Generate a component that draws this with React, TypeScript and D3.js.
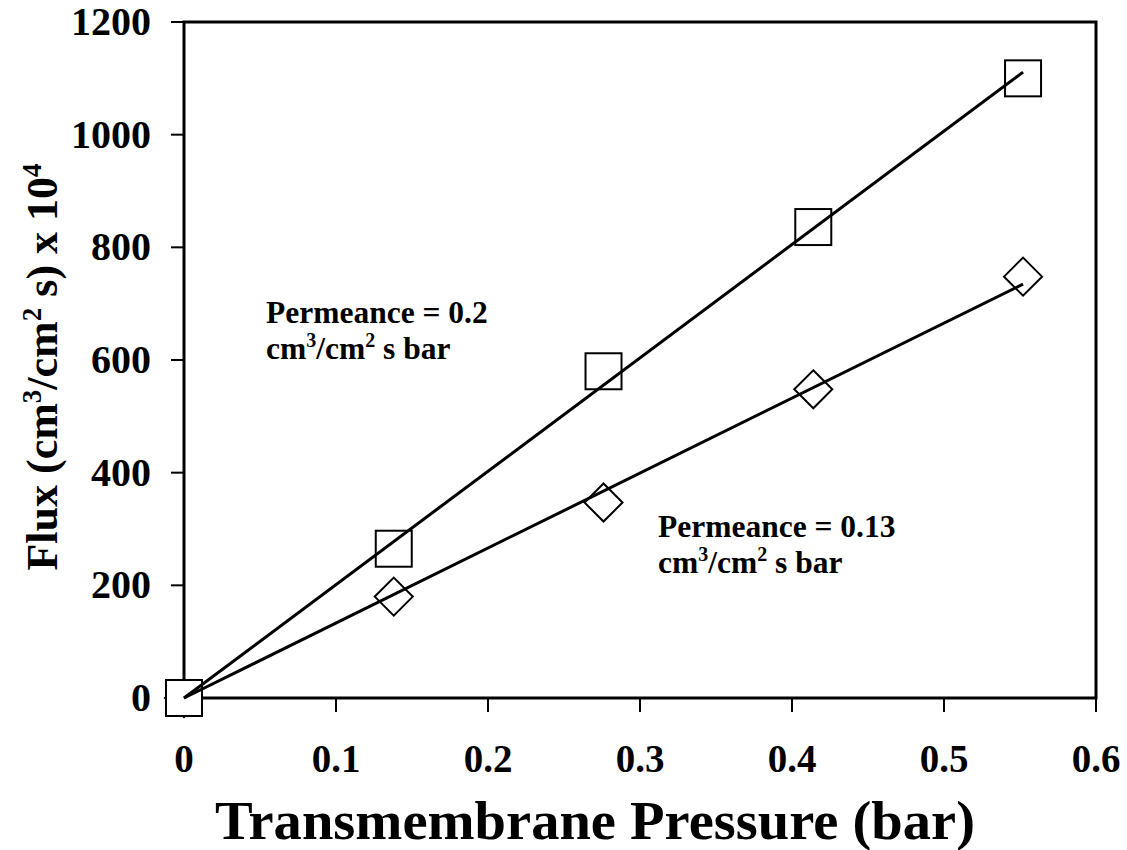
import React from "react";
import * as d3 from "d3";

const pressure = [0, 0.138, 0.276, 0.414, 0.552];
const fluxSquares = [0, 265, 580, 836, 1100];
const fluxDiamonds = [0, 180, 347, 548, 748];
const xTicks = [0, 0.1, 0.2, 0.3, 0.4, 0.5, 0.6];
const yTicks = [0, 200, 400, 600, 800, 1000, 1200];

const W = 1127;
const H = 850;
const FONT = "Liberation Serif, Times New Roman, serif";

function slopeThroughOrigin(xs: number[], ys: number[]) {
  const sxy = d3.sum(xs, (x, i) => x * ys[i]);
  const sxx = d3.sum(xs, (x) => x * x);
  return sxy / sxx;
}

export default function App() {
  const x = d3.scaleLinear().domain([0, 0.6]).range([184, 1096]);
  const y = d3.scaleLinear().domain([0, 1200]).range([698, 22]);
  const line = d3
    .line<[number, number]>()
    .x((d) => x(d[0]))
    .y((d) => y(d[1]));

  const kS = slopeThroughOrigin(pressure, fluxSquares);
  const kD = slopeThroughOrigin(pressure, fluxDiamonds);
  const xMax = d3.max(pressure) as number;
  const sq = 36;
  const dh = 19;

  return (
    <svg
      width={W}
      height={H}
      style={{ position: "absolute", left: 0, top: 0, background: "#fff", fontFamily: FONT, fontWeight: "bold" }}
    >
      <rect x={0} y={0} width={W} height={H} fill="#fff" />
      {/* frame */}
      <rect
        x={x(0)}
        y={y(1200)}
        width={x(0.6) - x(0)}
        height={y(0) - y(1200)}
        fill="none"
        stroke="#000"
        strokeWidth={3}
      />
      {/* x ticks */}
      {xTicks.map((t) => (
        <g key={"xt" + t}>
          <line x1={x(t)} x2={x(t)} y1={y(0)} y2={y(0) + 14} stroke="#000" strokeWidth={2} />
          <text x={x(t)} y={772} textAnchor="middle" fontSize={39}>
            {t === 0 ? "0" : d3.format(".1f")(t)}
          </text>
        </g>
      ))}
      {/* y ticks */}
      {yTicks.map((t) => (
        <g key={"yt" + t}>
          <line x1={x(0) - 13} x2={x(0)} y1={y(t)} y2={y(t)} stroke="#000" strokeWidth={2} />
          <text x={151} y={y(t) + 13} textAnchor="end" fontSize={40}>
            {t}
          </text>
        </g>
      ))}
      {/* axis titles */}
      <text x={595} y={839} textAnchor="middle" fontSize={54} textLength={760} lengthAdjust="spacingAndGlyphs">
        Transmembrane Pressure (bar)
      </text>
      <text transform="translate(57,367) rotate(-90)" textAnchor="middle" fontSize={44}>
        Flux (cm<tspan dy={-16} fontSize={27}>3</tspan>
        <tspan dy={16}>/cm</tspan>
        <tspan dy={-16} fontSize={27}>2</tspan>
        <tspan dy={16}> s) x 10</tspan>
        <tspan dy={-16} fontSize={27}>4</tspan>
      </text>
      {/* markers */}
      {pressure.map((p, i) => (
        <path
          key={"d" + i}
          d={`M${x(p)},${y(fluxDiamonds[i]) - dh}L${x(p) + dh},${y(fluxDiamonds[i])}L${x(p)},${
            y(fluxDiamonds[i]) + dh
          }L${x(p) - dh},${y(fluxDiamonds[i])}Z`}
          fill="#fff"
          stroke="#000"
          strokeWidth={2}
        />
      ))}
      {pressure.map((p, i) => (
        <rect
          key={"s" + i}
          x={x(p) - sq / 2}
          y={y(fluxSquares[i]) - sq / 2}
          width={sq}
          height={sq}
          fill="#fff"
          stroke="#000"
          strokeWidth={2}
        />
      ))}
      {/* trend lines */}
      <path d={line([[0, 0], [xMax, kS * xMax]]) as string} stroke="#000" strokeWidth={3} fill="none" />
      <path d={line([[0, 0], [xMax, kD * xMax]]) as string} stroke="#000" strokeWidth={3} fill="none" />
      {/* annotations */}
      <text x={266} y={323} fontSize={31.5}>
        Permeance = 0.2
      </text>
      <text x={266} y={359} fontSize={31.5}>
        cm<tspan dy={-12} fontSize={20}>3</tspan>
        <tspan dy={12}>/cm</tspan>
        <tspan dy={-12} fontSize={20}>2</tspan>
        <tspan dy={12}> s bar</tspan>
      </text>
      <text x={658} y={537} fontSize={31.5}>
        Permeance = 0.13
      </text>
      <text x={658} y={573} fontSize={31.5}>
        cm<tspan dy={-12} fontSize={20}>3</tspan>
        <tspan dy={12}>/cm</tspan>
        <tspan dy={-12} fontSize={20}>2</tspan>
        <tspan dy={12}> s bar</tspan>
      </text>
    </svg>
  );
}
